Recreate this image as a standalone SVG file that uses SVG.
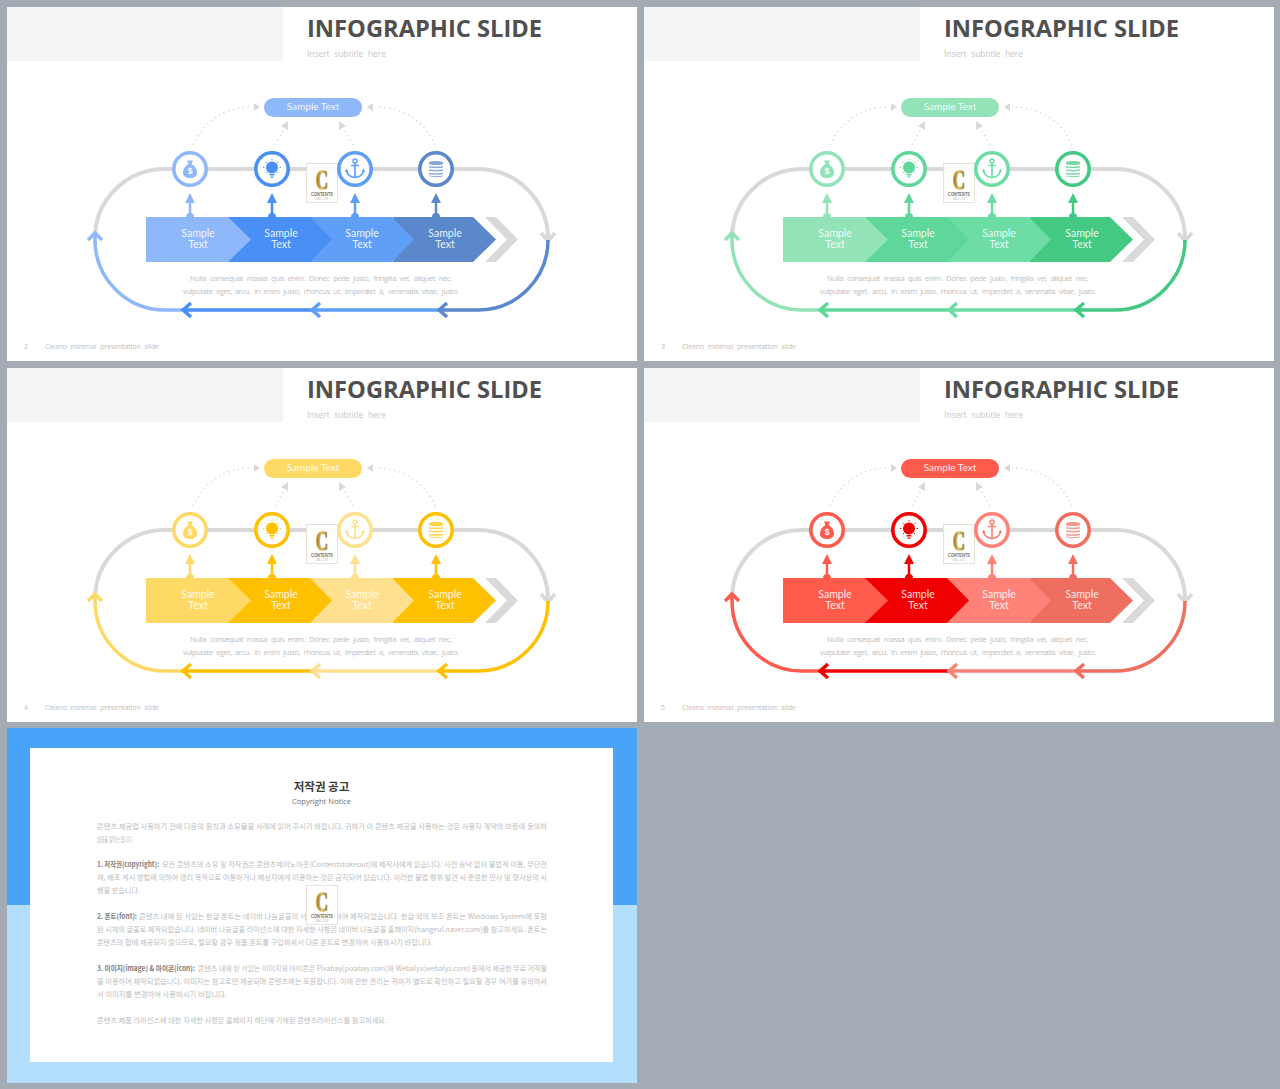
<svg xmlns="http://www.w3.org/2000/svg" width="1280" height="1089" viewBox="0 0 1280 1089">
<style>
.s1{--a:#8fb8fb;--b:#4a8ff5;--c:#5f9ff8;--d:#5b88ca}
.s2{--a:#92e3b8;--b:#5fd79b;--c:#6edca5;--d:#44c982}
.s3{--a:#ffd966;--b:#ffc000;--c:#ffe08f;--d:#ffc000}
.s4{--a:#ff5b4d;--b:#f00000;--c:#ff8278;--d:#ee6e60}
.k1{color:var(--a)}.k2{color:var(--b)}.k3{color:var(--c)}.k4{color:var(--d)}
.fc{fill:currentColor}
.sc{stroke:currentColor;fill:none;stroke-width:3.5}
.st{stroke:currentColor;fill:none;stroke-width:2.5}
.panel{fill:#fff}.band{fill:#f5f5f5}
.title{font:700 24px "Open Sans","Liberation Sans",sans-serif;fill:#505050}
.sub{font:8.5px "Open Sans","Liberation Sans",sans-serif;fill:#c8c8c8;word-spacing:2.5px}
.desc{font:7.5px "Open Sans","Liberation Sans",sans-serif;fill:#c0c0c0;word-spacing:2px}
.foot{font:7px "Open Sans","Liberation Sans",sans-serif;fill:#c0c0c0;word-spacing:2px}
.lbl{font:10.5px "Lato","Open Sans",sans-serif;fill:#fff;fill-opacity:.9;text-anchor:middle}
.pt{font:10px "Lato","Open Sans",sans-serif;fill:#fff;fill-opacity:.9;text-anchor:middle}
.dol{font:700 8.5px "Liberation Sans",sans-serif;fill:#fff;text-anchor:middle}
.gt{fill:none;stroke:#d9d9d9;stroke-width:4}
.gc{fill:none;stroke:#d9d9d9;stroke-width:3.5}
.dot{fill:none;stroke:#dcdcdc;stroke-width:1.5;stroke-dasharray:1.5 3.5}
.dh{fill:#d9d9d9}
.ring{fill:#fff;stroke:currentColor;stroke-width:3.6}
.lb{fill:#fff;fill-opacity:.9;stroke:#e6e2d8;stroke-width:1}
.lc{font:700 27px "Liberation Serif",serif;fill:url(#gold);stroke:url(#gold);stroke-width:1.3}
.lt{font:700 5px "Liberation Sans",sans-serif;fill:#77766a}
.lm{font:3px "Liberation Sans",sans-serif;fill:#c0c0b8}
.kb{font:7.4px "Noto Sans CJK KR",sans-serif;fill:#bcbcbc}
.kh{font:700 7.4px "Noto Sans CJK KR",sans-serif;fill:#808080}
</style>
<defs>
<linearGradient id="gold" x1="0" y1="0" x2="1" y2="0"><stop offset="0" stop-color="#8f7026"/><stop offset=".5" stop-color="#e0c76e"/><stop offset="1" stop-color="#94731f"/></linearGradient>
<g id="i-bag"><path class="fc" d="M-3 -9 H3 L1.6 -5.5 C5 -3.5 7 -.5 7 3 C7 7 4 8.500 0 8.500 C-4 8.500 -7 7 -7 3 C-7 -.5 -5 -3.500 -1.600 -5.500 Z"/></g>
<g id="i-bulb"><circle class="fc" cx="0" cy="-1.500" r="6"/><path class="fc" d="M-2.500 5H2.500V6.500H-2.500ZM-1.500 7.500H1.500V8.700H-1.500Z"/><path d="M-9 -1.500H-7.600M7.600 -1.500H9M-6.500 -7L-5.500 -6M6.500 -7L5.500 -6M-6 4L-5 3M6 4L5 3M0 -10V-8.800" stroke="currentColor" stroke-width="1" fill="none"/></g>
<g id="i-anchor"><circle cx="0" cy="-8" r="2" fill="none" stroke="currentColor" stroke-width="1.500"/><path d="M0 -6V8M-4 -3.500H4M-8.500 1C-8 6 -4 8.500 0 8.500C4 8.500 8 6 8.500 1" fill="none" stroke="currentColor" stroke-width="1.700"/><path class="fc" d="M-10 3L-8.500 -.5L-6.500 3ZM10 3L8.500 -.5L6.500 3Z"/></g>
<g id="i-coins" fill-opacity=".72"><path class="fc" d="M-7 -6.500C-7 -8.500 7 -8.500 7 -6.500V-5C7 -3.600 -7 -3.600 -7 -5ZM-7 -3.200C-5 -2 5 -2 7 -3.200V-1.700C5 -.5 -5 -.5 -7 -1.700ZM-7 .1C-5 1.300 5 1.300 7 .1V1.600C5 2.800 -5 2.800 -7 1.600ZM-7 3.400C-5 4.600 5 4.600 7 3.400V4.900C5 6.100 -5 6.100 -7 4.900ZM-7 6.300C-5 7.500 5 7.500 7 6.300V7C5 8.600 -5 8.600 -7 7Z"/></g>
</defs>
<rect id="background" width="1280" height="1089" fill="#a3abb5"/>

<g id="slide2" class="s1">
<rect class="panel" x="7" y="7" width="630" height="354"/><rect class="band" x="7" y="7" width="276" height="54"/>
<text class="title" x="307" y="37" textLength="235" lengthAdjust="spacingAndGlyphs">INFOGRAPHIC SLIDE</text>
<text class="sub" x="307" y="57" textLength="79">Insert subtitle here</text>
<g id="s2-connectors">
<path class="gt" d="M95 238A70 69 0 0 1 165 169H478A70 70 0 0 1 548 239"/><path class="gc" d="M541 233L548 241L555 233"/>
<path class="sc k1" d="M186 310H165A70 70 0 0 1 95 240V236M88 240L95 233L102 240"/><path class="sc k2" d="M313 310H184M191 303L183 310L191 317"/><path class="sc k3" d="M440 310H313M320 303L312 310L320 317"/><path class="sc k4" d="M548 240A70 70 0 0 1 478 310H440M447 303L439 310L447 317"/>
<path class="dot" d="M193 145C205 120 225 107 252 107"/><path class="dh" d="M254 103L260 107L254 111Z"/>
<path class="dot" d="M275 145L284 129"/><path class="dh" d="M281 126L288 121L288 130Z"/>
<path class="dot" d="M353 145L344 129"/><path class="dh" d="M339 121L346 126L339 130Z"/>
<path class="dot" d="M435 145C425 122 405 107 375 107"/><path class="dh" d="M373 103L367 107L373 111Z"/>
<g class="k1"><path class="st" d="M190 217V200"/><path class="fc" d="M185 203L190 193L195 203ZM186 217A4 4 0 0 1 194 217Z"/></g>
<g class="k2"><path class="st" d="M272 217V200"/><path class="fc" d="M267 203L272 193L277 203ZM268 217A4 4 0 0 1 276 217Z"/></g>
<g class="k3"><path class="st" d="M355 217V200"/><path class="fc" d="M350 203L355 193L360 203ZM351 217A4 4 0 0 1 359 217Z"/></g>
<g class="k4"><path class="st" d="M436 217V200"/><path class="fc" d="M431 203L436 193L441 203ZM432 217A4 4 0 0 1 440 217Z"/></g>
</g>
<g id="s2-logo"><rect class="lb" x="306.500" y="163.500" width="31" height="39"/><text class="lc" x="316" y="189" textLength="12" lengthAdjust="spacingAndGlyphs">C</text><text class="lt" x="311" y="195.500" textLength="22" lengthAdjust="spacingAndGlyphs">CONTENTS</text><text class="lm" x="316" y="200" textLength="12" lengthAdjust="spacingAndGlyphs">MALL.COM</text></g>
<g id="s2-pill" class="k1"><rect class="fc" x="264" y="98" width="98" height="19" rx="9.500"/><text class="pt" x="313" y="110">Sample Text</text></g>
<g id="s2-icon1" class="k1"><circle class="ring" cx="190" cy="169" r="16.200"/><use href="#i-bag" transform="translate(190 169.500)"/><text class="dol" x="190" y="174">$</text></g>
<g id="s2-icon2" class="k2"><circle class="ring" cx="272" cy="169" r="16.200"/><use href="#i-bulb" transform="translate(272 169)"/></g>
<g id="s2-icon3" class="k3"><circle class="ring" cx="355" cy="169" r="16.200"/><use href="#i-anchor" transform="translate(355 169)"/></g>
<g id="s2-icon4" class="k4"><circle class="ring" cx="436" cy="169" r="16.200"/><use href="#i-coins" transform="translate(436 169)"/></g>
<g id="s2-chev4" class="k4"><polygon class="fc" points="393,217 473,217 496,239.500 473,262 393,262"/><text class="lbl" x="445" y="237">Sample</text><text class="lbl" x="445" y="248">Text</text></g>
<g id="s2-chev3" class="k3"><polygon class="fc" points="310,217 392,217 414,239.500 392,262 310,262"/><text class="lbl" x="362" y="237">Sample</text><text class="lbl" x="362" y="248">Text</text></g>
<g id="s2-chev2" class="k2"><polygon class="fc" points="228,217 310,217 332,239.500 310,262 228,262"/><text class="lbl" x="281" y="237">Sample</text><text class="lbl" x="281" y="248">Text</text></g>
<g id="s2-chev1" class="k1"><polygon class="fc" points="146,217 228,217 251,239.500 228,262 146,262"/><text class="lbl" x="198" y="237">Sample</text><text class="lbl" x="198" y="248">Text</text></g>
<polygon id="s2-chevgray" fill="#d9d9d9" points="485,217 496,217 518,239.500 496,262 485,262 507,239.500"/>
<text class="desc" x="190" y="280.500" textLength="262">Nulla consequat massa quis enim. Donec pede justo, fringilla vel, aliquet nec,</text>
<text class="desc" x="183" y="293.500" textLength="276">vulputate eget, arcu. In enim justo, rhoncus ut, imperdiet a, venenatis vitae, justo.</text>
<text class="foot" x="24" y="349">2</text><text class="foot" x="45" y="349" textLength="114">Cleano minimal presentation slide</text>
</g>

<g id="slide3" class="s2" transform="translate(637 0)">
<rect class="panel" x="7" y="7" width="630" height="354"/><rect class="band" x="7" y="7" width="276" height="54"/>
<text class="title" x="307" y="37" textLength="235" lengthAdjust="spacingAndGlyphs">INFOGRAPHIC SLIDE</text>
<text class="sub" x="307" y="57" textLength="79">Insert subtitle here</text>
<g id="s3-connectors">
<path class="gt" d="M95 238A70 69 0 0 1 165 169H478A70 70 0 0 1 548 239"/><path class="gc" d="M541 233L548 241L555 233"/>
<path class="sc k1" d="M186 310H165A70 70 0 0 1 95 240V236M88 240L95 233L102 240"/><path class="sc k2" d="M313 310H184M191 303L183 310L191 317"/><path class="sc k3" d="M440 310H313M320 303L312 310L320 317"/><path class="sc k4" d="M548 240A70 70 0 0 1 478 310H440M447 303L439 310L447 317"/>
<path class="dot" d="M193 145C205 120 225 107 252 107"/><path class="dh" d="M254 103L260 107L254 111Z"/>
<path class="dot" d="M275 145L284 129"/><path class="dh" d="M281 126L288 121L288 130Z"/>
<path class="dot" d="M353 145L344 129"/><path class="dh" d="M339 121L346 126L339 130Z"/>
<path class="dot" d="M435 145C425 122 405 107 375 107"/><path class="dh" d="M373 103L367 107L373 111Z"/>
<g class="k1"><path class="st" d="M190 217V200"/><path class="fc" d="M185 203L190 193L195 203ZM186 217A4 4 0 0 1 194 217Z"/></g>
<g class="k2"><path class="st" d="M272 217V200"/><path class="fc" d="M267 203L272 193L277 203ZM268 217A4 4 0 0 1 276 217Z"/></g>
<g class="k3"><path class="st" d="M355 217V200"/><path class="fc" d="M350 203L355 193L360 203ZM351 217A4 4 0 0 1 359 217Z"/></g>
<g class="k4"><path class="st" d="M436 217V200"/><path class="fc" d="M431 203L436 193L441 203ZM432 217A4 4 0 0 1 440 217Z"/></g>
</g>
<g id="s3-logo"><rect class="lb" x="306.500" y="163.500" width="31" height="39"/><text class="lc" x="316" y="189" textLength="12" lengthAdjust="spacingAndGlyphs">C</text><text class="lt" x="311" y="195.500" textLength="22" lengthAdjust="spacingAndGlyphs">CONTENTS</text><text class="lm" x="316" y="200" textLength="12" lengthAdjust="spacingAndGlyphs">MALL.COM</text></g>
<g id="s3-pill" class="k1"><rect class="fc" x="264" y="98" width="98" height="19" rx="9.500"/><text class="pt" x="313" y="110">Sample Text</text></g>
<g id="s3-icon1" class="k1"><circle class="ring" cx="190" cy="169" r="16.200"/><use href="#i-bag" transform="translate(190 169.500)"/><text class="dol" x="190" y="174">$</text></g>
<g id="s3-icon2" class="k2"><circle class="ring" cx="272" cy="169" r="16.200"/><use href="#i-bulb" transform="translate(272 169)"/></g>
<g id="s3-icon3" class="k3"><circle class="ring" cx="355" cy="169" r="16.200"/><use href="#i-anchor" transform="translate(355 169)"/></g>
<g id="s3-icon4" class="k4"><circle class="ring" cx="436" cy="169" r="16.200"/><use href="#i-coins" transform="translate(436 169)"/></g>
<g id="s3-chev4" class="k4"><polygon class="fc" points="393,217 473,217 496,239.500 473,262 393,262"/><text class="lbl" x="445" y="237">Sample</text><text class="lbl" x="445" y="248">Text</text></g>
<g id="s3-chev3" class="k3"><polygon class="fc" points="310,217 392,217 414,239.500 392,262 310,262"/><text class="lbl" x="362" y="237">Sample</text><text class="lbl" x="362" y="248">Text</text></g>
<g id="s3-chev2" class="k2"><polygon class="fc" points="228,217 310,217 332,239.500 310,262 228,262"/><text class="lbl" x="281" y="237">Sample</text><text class="lbl" x="281" y="248">Text</text></g>
<g id="s3-chev1" class="k1"><polygon class="fc" points="146,217 228,217 251,239.500 228,262 146,262"/><text class="lbl" x="198" y="237">Sample</text><text class="lbl" x="198" y="248">Text</text></g>
<polygon id="s3-chevgray" fill="#d9d9d9" points="485,217 496,217 518,239.500 496,262 485,262 507,239.500"/>
<text class="desc" x="190" y="280.500" textLength="262">Nulla consequat massa quis enim. Donec pede justo, fringilla vel, aliquet nec,</text>
<text class="desc" x="183" y="293.500" textLength="276">vulputate eget, arcu. In enim justo, rhoncus ut, imperdiet a, venenatis vitae, justo.</text>
<text class="foot" x="24" y="349">3</text><text class="foot" x="45" y="349" textLength="114">Cleano minimal presentation slide</text>
</g>

<g id="slide4" class="s3" transform="translate(0 361)">
<rect class="panel" x="7" y="7" width="630" height="354"/><rect class="band" x="7" y="7" width="276" height="54"/>
<text class="title" x="307" y="37" textLength="235" lengthAdjust="spacingAndGlyphs">INFOGRAPHIC SLIDE</text>
<text class="sub" x="307" y="57" textLength="79">Insert subtitle here</text>
<g id="s4-connectors">
<path class="gt" d="M95 238A70 69 0 0 1 165 169H478A70 70 0 0 1 548 239"/><path class="gc" d="M541 233L548 241L555 233"/>
<path class="sc k1" d="M186 310H165A70 70 0 0 1 95 240V236M88 240L95 233L102 240"/><path class="sc k2" d="M313 310H184M191 303L183 310L191 317"/><path class="sc k3" d="M440 310H313M320 303L312 310L320 317"/><path class="sc k4" d="M548 240A70 70 0 0 1 478 310H440M447 303L439 310L447 317"/>
<path class="dot" d="M193 145C205 120 225 107 252 107"/><path class="dh" d="M254 103L260 107L254 111Z"/>
<path class="dot" d="M275 145L284 129"/><path class="dh" d="M281 126L288 121L288 130Z"/>
<path class="dot" d="M353 145L344 129"/><path class="dh" d="M339 121L346 126L339 130Z"/>
<path class="dot" d="M435 145C425 122 405 107 375 107"/><path class="dh" d="M373 103L367 107L373 111Z"/>
<g class="k1"><path class="st" d="M190 217V200"/><path class="fc" d="M185 203L190 193L195 203ZM186 217A4 4 0 0 1 194 217Z"/></g>
<g class="k2"><path class="st" d="M272 217V200"/><path class="fc" d="M267 203L272 193L277 203ZM268 217A4 4 0 0 1 276 217Z"/></g>
<g class="k3"><path class="st" d="M355 217V200"/><path class="fc" d="M350 203L355 193L360 203ZM351 217A4 4 0 0 1 359 217Z"/></g>
<g class="k4"><path class="st" d="M436 217V200"/><path class="fc" d="M431 203L436 193L441 203ZM432 217A4 4 0 0 1 440 217Z"/></g>
</g>
<g id="s4-logo"><rect class="lb" x="306.500" y="163.500" width="31" height="39"/><text class="lc" x="316" y="189" textLength="12" lengthAdjust="spacingAndGlyphs">C</text><text class="lt" x="311" y="195.500" textLength="22" lengthAdjust="spacingAndGlyphs">CONTENTS</text><text class="lm" x="316" y="200" textLength="12" lengthAdjust="spacingAndGlyphs">MALL.COM</text></g>
<g id="s4-pill" class="k1"><rect class="fc" x="264" y="98" width="98" height="19" rx="9.500"/><text class="pt" x="313" y="110">Sample Text</text></g>
<g id="s4-icon1" class="k1"><circle class="ring" cx="190" cy="169" r="16.200"/><use href="#i-bag" transform="translate(190 169.500)"/><text class="dol" x="190" y="174">$</text></g>
<g id="s4-icon2" class="k2"><circle class="ring" cx="272" cy="169" r="16.200"/><use href="#i-bulb" transform="translate(272 169)"/></g>
<g id="s4-icon3" class="k3"><circle class="ring" cx="355" cy="169" r="16.200"/><use href="#i-anchor" transform="translate(355 169)"/></g>
<g id="s4-icon4" class="k4"><circle class="ring" cx="436" cy="169" r="16.200"/><use href="#i-coins" transform="translate(436 169)"/></g>
<g id="s4-chev4" class="k4"><polygon class="fc" points="393,217 473,217 496,239.500 473,262 393,262"/><text class="lbl" x="445" y="237">Sample</text><text class="lbl" x="445" y="248">Text</text></g>
<g id="s4-chev3" class="k3"><polygon class="fc" points="310,217 392,217 414,239.500 392,262 310,262"/><text class="lbl" x="362" y="237">Sample</text><text class="lbl" x="362" y="248">Text</text></g>
<g id="s4-chev2" class="k2"><polygon class="fc" points="228,217 310,217 332,239.500 310,262 228,262"/><text class="lbl" x="281" y="237">Sample</text><text class="lbl" x="281" y="248">Text</text></g>
<g id="s4-chev1" class="k1"><polygon class="fc" points="146,217 228,217 251,239.500 228,262 146,262"/><text class="lbl" x="198" y="237">Sample</text><text class="lbl" x="198" y="248">Text</text></g>
<polygon id="s4-chevgray" fill="#d9d9d9" points="485,217 496,217 518,239.500 496,262 485,262 507,239.500"/>
<text class="desc" x="190" y="280.500" textLength="262">Nulla consequat massa quis enim. Donec pede justo, fringilla vel, aliquet nec,</text>
<text class="desc" x="183" y="293.500" textLength="276">vulputate eget, arcu. In enim justo, rhoncus ut, imperdiet a, venenatis vitae, justo.</text>
<text class="foot" x="24" y="349">4</text><text class="foot" x="45" y="349" textLength="114">Cleano minimal presentation slide</text>
</g>

<g id="slide5" class="s4" transform="translate(637 361)">
<rect class="panel" x="7" y="7" width="630" height="354"/><rect class="band" x="7" y="7" width="276" height="54"/>
<text class="title" x="307" y="37" textLength="235" lengthAdjust="spacingAndGlyphs">INFOGRAPHIC SLIDE</text>
<text class="sub" x="307" y="57" textLength="79">Insert subtitle here</text>
<g id="s5-connectors">
<path class="gt" d="M95 238A70 69 0 0 1 165 169H478A70 70 0 0 1 548 239"/><path class="gc" d="M541 233L548 241L555 233"/>
<path class="sc k1" d="M186 310H165A70 70 0 0 1 95 240V236M88 240L95 233L102 240"/><path class="sc k2" d="M313 310H184M191 303L183 310L191 317"/><path class="sc k3" d="M440 310H313M320 303L312 310L320 317"/><path class="sc k4" d="M548 240A70 70 0 0 1 478 310H440M447 303L439 310L447 317"/>
<path class="dot" d="M193 145C205 120 225 107 252 107"/><path class="dh" d="M254 103L260 107L254 111Z"/>
<path class="dot" d="M275 145L284 129"/><path class="dh" d="M281 126L288 121L288 130Z"/>
<path class="dot" d="M353 145L344 129"/><path class="dh" d="M339 121L346 126L339 130Z"/>
<path class="dot" d="M435 145C425 122 405 107 375 107"/><path class="dh" d="M373 103L367 107L373 111Z"/>
<g class="k1"><path class="st" d="M190 217V200"/><path class="fc" d="M185 203L190 193L195 203ZM186 217A4 4 0 0 1 194 217Z"/></g>
<g class="k2"><path class="st" d="M272 217V200"/><path class="fc" d="M267 203L272 193L277 203ZM268 217A4 4 0 0 1 276 217Z"/></g>
<g class="k3"><path class="st" d="M355 217V200"/><path class="fc" d="M350 203L355 193L360 203ZM351 217A4 4 0 0 1 359 217Z"/></g>
<g class="k4"><path class="st" d="M436 217V200"/><path class="fc" d="M431 203L436 193L441 203ZM432 217A4 4 0 0 1 440 217Z"/></g>
</g>
<g id="s5-logo"><rect class="lb" x="306.500" y="163.500" width="31" height="39"/><text class="lc" x="316" y="189" textLength="12" lengthAdjust="spacingAndGlyphs">C</text><text class="lt" x="311" y="195.500" textLength="22" lengthAdjust="spacingAndGlyphs">CONTENTS</text><text class="lm" x="316" y="200" textLength="12" lengthAdjust="spacingAndGlyphs">MALL.COM</text></g>
<g id="s5-pill" class="k1"><rect class="fc" x="264" y="98" width="98" height="19" rx="9.500"/><text class="pt" x="313" y="110">Sample Text</text></g>
<g id="s5-icon1" class="k1"><circle class="ring" cx="190" cy="169" r="16.200"/><use href="#i-bag" transform="translate(190 169.500)"/><text class="dol" x="190" y="174">$</text></g>
<g id="s5-icon2" class="k2"><circle class="ring" cx="272" cy="169" r="16.200"/><use href="#i-bulb" transform="translate(272 169)"/></g>
<g id="s5-icon3" class="k3"><circle class="ring" cx="355" cy="169" r="16.200"/><use href="#i-anchor" transform="translate(355 169)"/></g>
<g id="s5-icon4" class="k4"><circle class="ring" cx="436" cy="169" r="16.200"/><use href="#i-coins" transform="translate(436 169)"/></g>
<g id="s5-chev4" class="k4"><polygon class="fc" points="393,217 473,217 496,239.500 473,262 393,262"/><text class="lbl" x="445" y="237">Sample</text><text class="lbl" x="445" y="248">Text</text></g>
<g id="s5-chev3" class="k3"><polygon class="fc" points="310,217 392,217 414,239.500 392,262 310,262"/><text class="lbl" x="362" y="237">Sample</text><text class="lbl" x="362" y="248">Text</text></g>
<g id="s5-chev2" class="k2"><polygon class="fc" points="228,217 310,217 332,239.500 310,262 228,262"/><text class="lbl" x="281" y="237">Sample</text><text class="lbl" x="281" y="248">Text</text></g>
<g id="s5-chev1" class="k1"><polygon class="fc" points="146,217 228,217 251,239.500 228,262 146,262"/><text class="lbl" x="198" y="237">Sample</text><text class="lbl" x="198" y="248">Text</text></g>
<polygon id="s5-chevgray" fill="#d9d9d9" points="485,217 496,217 518,239.500 496,262 485,262 507,239.500"/>
<text class="desc" x="190" y="280.500" textLength="262">Nulla consequat massa quis enim. Donec pede justo, fringilla vel, aliquet nec,</text>
<text class="desc" x="183" y="293.500" textLength="276">vulputate eget, arcu. In enim justo, rhoncus ut, imperdiet a, venenatis vitae, justo.</text>
<text class="foot" x="24" y="349">5</text><text class="foot" x="45" y="349" textLength="114">Cleano minimal presentation slide</text>
</g>

<g id="notice">
<rect x="7" y="728" width="630" height="177" fill="#4aa3fb"/><rect x="7" y="905" width="630" height="178" fill="#b3defd"/>
<rect x="30" y="748" width="583" height="314" fill="#fff"/>
<text x="321.500" y="790.500" text-anchor="middle" style="font:700 11.500px 'Noto Sans CJK KR',sans-serif;fill:#3a3a3a">저작권 공고</text>
<text x="292" y="804" textLength="59" lengthAdjust="spacingAndGlyphs" style="font:8px 'Open Sans','Liberation Sans',sans-serif;fill:#707070">Copyright Notice</text>
<text class="kb" x="97" y="829" textLength="450" lengthAdjust="spacingAndGlyphs">콘텐츠 제공업 사용하기 전에 다음의 원칙과 소유물을 사례에 읽어 주시기 바랍니다. 귀하가 이 콘텐츠 제공을 사용하는 것은 사용자 계약의 보증에 동의하</text>
<text class="kb" x="97" y="842" textLength="36" lengthAdjust="spacingAndGlyphs">셨음을 알리는 합니다.</text>
<text class="kh" x="97" y="867" textLength="62" lengthAdjust="spacingAndGlyphs">1. 저작권(copyright):</text>
<text class="kb" x="162" y="867" textLength="385" lengthAdjust="spacingAndGlyphs">모든 콘텐츠의 소유 및 저작권은 콘텐츠메이노아웃(Contentstokeout)에 제작사에게 있습니다. 사전 승낙 없이 불법적 이용, 무단전</text>
<text class="kb" x="97" y="880" textLength="450" lengthAdjust="spacingAndGlyphs">재, 배포 게시 방법에 의하여 영리 목적으로 이용하거나 제삼자에게 이용하는 것은 금지되어 있습니다. 이러한 불법 행위 발견 시 준엄한 민사 및 형사상의 시</text>
<text class="kb" x="97" y="893" textLength="43" lengthAdjust="spacingAndGlyphs">행을 받습니다.</text>
<text class="kh" x="97" y="919" textLength="40" lengthAdjust="spacingAndGlyphs">2. 폰트(font):</text>
<text class="kb" x="139" y="919" textLength="408" lengthAdjust="spacingAndGlyphs">콘텐츠 내에 된 서있는 한글 폰트는 네이버 나눔글꼴의 서체를 기반하여 제작되었습니다. 한글 외의 보조 폰트는 Windows System에 포함</text>
<text class="kb" x="97" y="932" textLength="450" lengthAdjust="spacingAndGlyphs">된 시체의 글꼴로 제작되었습니다. 네이버 나눔글꼴 라이선스에 대한 자세한 사항은 네이버 나눔글꼴 홈페이지(hangeul.naver.com)를 참고하세요. 폰트는</text>
<text class="kb" x="97" y="945" textLength="336" lengthAdjust="spacingAndGlyphs">콘텐츠의 합에 제공되지 않으므로, 필요할 경우 정품 폰트를 구입하셔서 다른 폰트로 변경하여 사용하시기 바랍니다.</text>
<text class="kh" x="97" y="971" textLength="98" lengthAdjust="spacingAndGlyphs">3. 이미지(image) &amp; 아이콘(icon):</text>
<text class="kb" x="198" y="971" textLength="349" lengthAdjust="spacingAndGlyphs">콘텐츠 내에 된 서있는 이미지와 아이콘은 Pixabay(pixabay.com)와 Webalys(webalys.com) 등에서 제공한 무료 저작물</text>
<text class="kb" x="97" y="984" textLength="450" lengthAdjust="spacingAndGlyphs">을 이용하여 제작되었습니다. 이미지는 참고로만 제공되며 콘텐츠에는 포함합니다. 이에 관한 권리는 귀하가 별도로 확인하고 필요할 경우 여기를 유의하셔</text>
<text class="kb" x="97" y="997" textLength="130" lengthAdjust="spacingAndGlyphs">서 이미지를 변경하여 사용하시기 바랍니다.</text>
<text class="kb" x="97" y="1023" textLength="290" lengthAdjust="spacingAndGlyphs">콘텐츠 제품 라이선스에 대한 자세한 사항은 홈페이지 하단에 기재된 콘텐츠라이선스를 참고하세요.</text>
<g id="notice-logo" transform="translate(0 722)"><rect class="lb" x="306.500" y="163.500" width="31" height="39"/><text class="lc" x="316" y="189" textLength="12" lengthAdjust="spacingAndGlyphs">C</text><text class="lt" x="311" y="195.500" textLength="22" lengthAdjust="spacingAndGlyphs">CONTENTS</text><text class="lm" x="316" y="200" textLength="12" lengthAdjust="spacingAndGlyphs">MALL.COM</text></g>
</g>
</svg>
